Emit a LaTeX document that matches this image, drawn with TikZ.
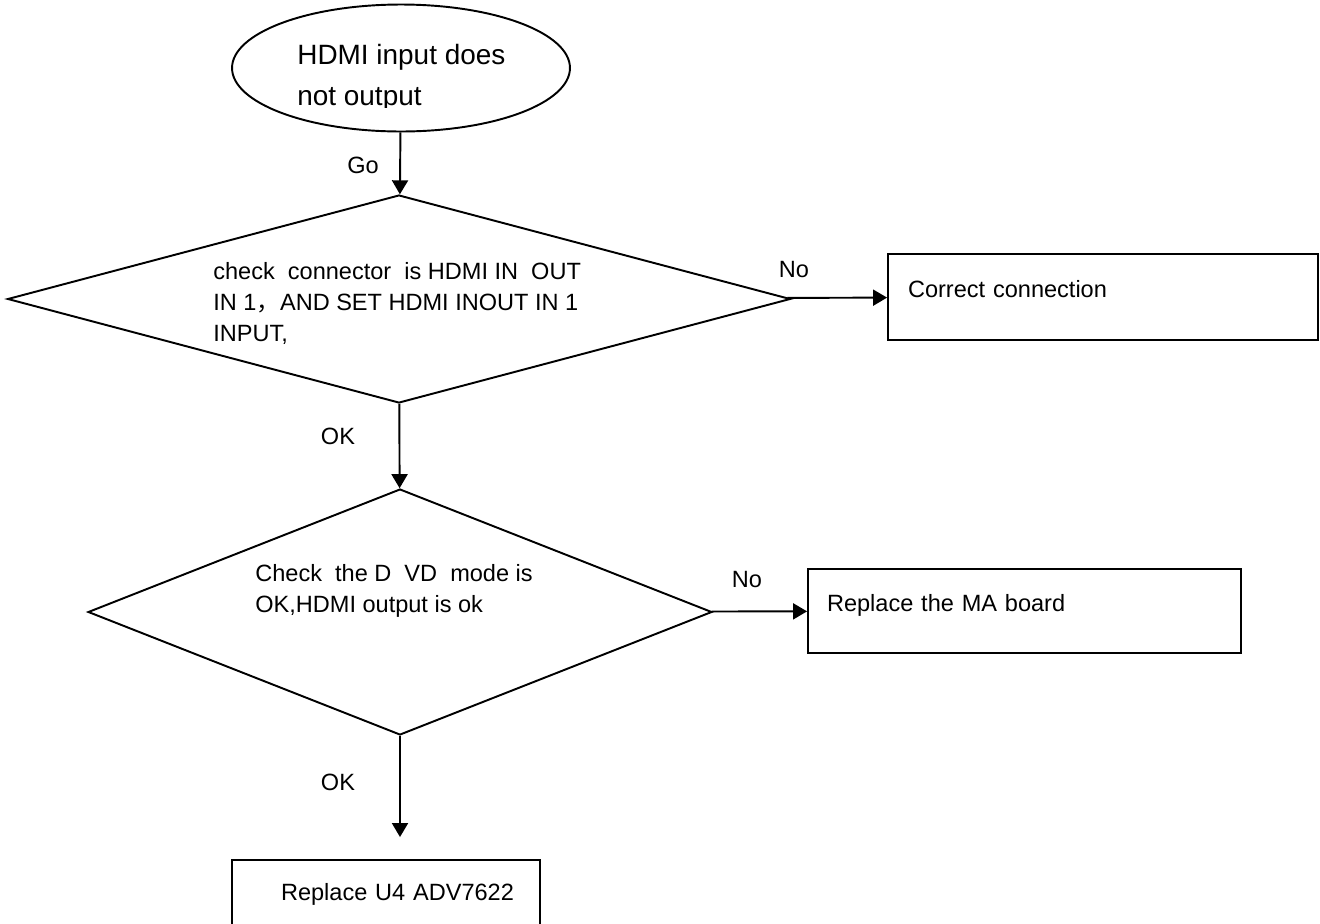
\documentclass[tikz,border=0pt]{standalone}
\usepackage{fontspec}
\setmainfont{Liberation Sans}
\newfontfamily\cjk{Noto Sans CJK SC}
\usetikzlibrary{arrows.meta,shapes.geometric}

\begin{document}
\begin{tikzpicture}[x=0.02cm, y=-0.02cm,
  every node/.style={font=\fontsize{13.4}{17.6}\selectfont},
  term/.style={draw, ellipse, line width=1.1pt},
  dec/.style={draw, diamond, line width=1.1pt, inner sep=0pt},
  dtext/.style={align=left, inner sep=0pt, anchor=north west},
  box/.style={draw, line width=1.1pt, text height=10pt, text depth=10pt},
  lbl/.style={inner sep=0pt},
  arr/.style={-{Triangle[length=0.28cm, width=0.32cm]}, line width=1.1pt}]
\clip (0,0) rectangle (1320,924);
\node[term, minimum width=6.76cm, minimum height=2.54cm] (noout) at (401,68) {};
\begin{scope}
  \clip (200,0) rectangle (600,107);
  \node[dtext, font=\fontsize{15.9}{23.2}\selectfont] (noouttxt) at (297,44) {HDMI input does\\not output};
\end{scope}
\node[dec, minimum width=15.66cm, minimum height=4.16cm] (chkconn) at (399,299) {};
\node[dtext] (chkconntxt) at (213,262) {check\ \ connector\ \ is HDMI IN\ \ OUT\\IN 1{\cjk ，}AND SET HDMI INOUT IN 1\\INPUT,};
\node[box, minimum width=8.6cm, minimum height=1.72cm, text width=7.8cm, inner xsep=0.4cm, align=left] (fixconn) at (1103,297) {Correct connection};
\node[dec, minimum width=12.48cm, minimum height=4.92cm] (chkdvd) at (400,612) {};
\node[dtext] (chkdvdtxt) at (255,564) {Check\ \ the D\ \ VD\ \ mode is\\OK,HDMI output is ok};
\node[box, minimum width=8.66cm, minimum height=1.68cm, text width=7.9cm, inner xsep=0.38cm, align=left] (newma) at (1024.5,611) {Replace the MA board};
\node[box, minimum width=6.16cm, minimum height=1.6cm, text width=5.12cm, inner xsep=0.52cm, align=right] (newu4) at (386,900) {Replace U4 ADV7622};
% labels on the arrows
\node[lbl] (go) at (363,165) {Go};
\node[lbl] (no1) at (794,270) {No};
\node[lbl] (ok1) at (338,436) {OK};
\node[lbl] (no2) at (747,580) {No};
\node[lbl] (ok2) at (338,782) {OK};
\draw[arr] (noout) -- (chkconn); \draw[arr] (chkconn) -- (fixconn); \draw[arr] (chkconn) -- (chkdvd);
\draw[arr] (chkdvd) -- (newma); \draw[arr, shorten >=0.44cm] (chkdvd.south) -- (chkdvd.south |- newu4.north);
\end{tikzpicture}
\end{document}
